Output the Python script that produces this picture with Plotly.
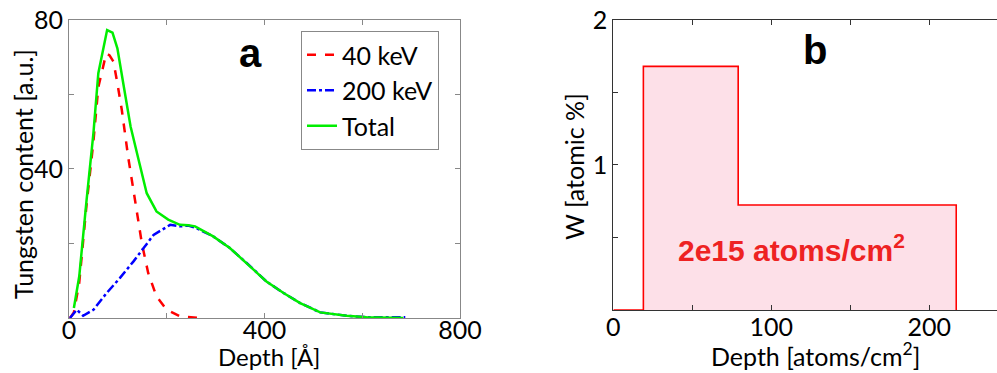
import plotly.graph_objects as go

# ---- Panel a data (Depth [Å] vs Tungsten content [a.u.]) ----
x_40kev = [2, 10, 21, 36, 50, 60, 69, 76, 83, 91, 99, 108, 121, 135, 149, 162, 179, 200, 227, 265]
y_40kev = [0, 1.5, 9.5, 30.5, 47.4, 62, 67, 71, 70.5, 68.8, 63, 55.9, 43.3, 31.7, 20.1, 12.1, 5.8, 2.2, 0.45, 0]

x_200kev = [2, 16, 29, 50, 77, 104, 132, 152, 173, 207, 227, 244, 261, 295, 329, 364, 404, 439, 473, 514, 568, 609, 688]
y_200kev = [0, 2.2, 0.6, 2.2, 6.7, 10.7, 15.2, 18.8, 22.3, 25.0, 24.6, 24.8, 24.1, 21.9, 18.8, 14.7, 9.8, 6.7, 4.0, 1.5, 0.6, 0.2, 0.2]

x_total = [10, 21, 36, 50, 60, 69, 78, 89, 99, 111, 126, 144, 159, 179, 203, 227, 244, 258, 295, 329, 364, 404, 439, 473, 514, 568, 609, 684]
y_total = [2.7, 11.2, 31.7, 49.6, 65.7, 71.9, 77.3, 76.6, 72.4, 63.0, 51.4, 41.6, 33.5, 28.6, 26.4, 25.0, 24.9, 24.6, 21.9, 18.8, 14.7, 9.8, 6.7, 4.0, 1.5, 0.6, 0.2, 0.0]

a_xticks = [0, 200, 400, 600, 800]
a_xticklabels = ["0", "", "400", "", "800"]
a_yticks = [0, 20, 40, 60, 80]
a_yticklabels = ["", "", "40", "", "80"]

# ---- Panel b data (step profile) ----
b_edges = [0, 19, 79, 217]
b_levels = [0, 1.68, 0.724, 0]
b_xticks = [0, 50, 100, 150, 200]
b_xticklabels = ["0", "", "100", "", "200"]
b_yticks = [0, 0.5, 1, 1.5, 2]
b_yticklabels = ["", "", "1", "", "2"]

FONT = "Lato"
W, H = 997, 373
fig = go.Figure()

fig.add_trace(go.Scatter(x=x_40kev, y=y_40kev, mode="lines", name="40 keV",
                         line=dict(color="#ff0000", width=2.5, dash="dash"),
                         xaxis="x", yaxis="y"))
fig.add_trace(go.Scatter(x=x_200kev, y=y_200kev, mode="lines", name="200 keV",
                         line=dict(color="#0000ff", width=2.5, dash="dashdot"),
                         xaxis="x", yaxis="y"))
fig.add_trace(go.Scatter(x=x_total, y=y_total, mode="lines", name="Total",
                         line=dict(color="#00ee00", width=2.5),
                         xaxis="x", yaxis="y"))

fig.add_trace(go.Scatter(x=b_edges, y=b_levels, mode="lines", line_shape="hv",
                         fill="tozeroy", fillcolor="#fde0e8",
                         line=dict(color="#ff0000", width=1.6),
                         showlegend=False, xaxis="x2", yaxis="y2"))

axis_common = dict(ticks="inside", ticklen=5, showgrid=False, zeroline=False,
                   showline=True, linewidth=1,
                   tickfont=dict(family=FONT, size=25, color="black"))


def ann(text, px, py, size, family=FONT, color="black", angle=0, yanchor="middle"):
    return dict(text=text, x=px / W, y=1 - py / H, xref="paper", yref="paper",
                xanchor="center", yanchor=yanchor, showarrow=False, textangle=angle,
                font=dict(family=family, size=size, color=color))


fig.update_layout(
    width=W, height=H,
    margin=dict(l=0, r=0, t=0, b=0, autoexpand=False),
    paper_bgcolor="white", plot_bgcolor="white",
    font=dict(family=FONT, size=24, color="black"),
    xaxis=dict(domain=[0.0692, 0.4614], range=[0, 800], tickmode="array",
               tickvals=a_xticks, ticktext=a_xticklabels, mirror="ticks",
               linecolor="#888888", tickcolor="#888888", ticklabelstandoff=-10,
               anchor="y", **axis_common),
    yaxis=dict(domain=[0.1475, 0.9464], range=[0, 80], tickmode="array",
               tickvals=a_yticks, ticktext=a_yticklabels, mirror="ticks",
               linecolor="#888888", tickcolor="#888888",
               anchor="x", **axis_common),
    xaxis2=dict(domain=[0.6152, 1.0], range=[0, 242.8], tickmode="array",
                tickvals=b_xticks, ticktext=b_xticklabels, mirror="ticks",
                linecolor="#333333", tickcolor="#333333", ticklabelstandoff=-5,
                anchor="y2", **axis_common),
    yaxis2=dict(domain=[0.1689, 0.9464], range=[0, 2], tickmode="array",
                tickvals=b_yticks, ticktext=b_yticklabels,
                linecolor="#333333", tickcolor="#333333",
                anchor="x2", **axis_common),
    legend=dict(x=301/997, y=1-31/373, xanchor="left", yanchor="top",
                bordercolor="#888888", borderwidth=1, bgcolor="white",
                font=dict(family=FONT, size=25), tracegroupgap=0, itemwidth=30),
    annotations=[
        ann("Depth [Å]", 269, 373, 24, yanchor="bottom"),
        ann("Tungsten content [a.u.]", 23, 174, 25, angle=-90),
        ann("Depth [atoms/cm<sup>2</sup>]", 815, 354, 25),
        ann("W [atomic %]", 574, 167, 25, angle=-90),
        ann("<b>a</b>", 251, 53, 40, family="Liberation Sans"),
        ann("<b>b</b>", 815, 50, 40, family="Liberation Sans"),
        dict(text="<b>2e15 atoms/cm<sup>2</sup></b>", x=113, y=0.43, xref="x2", yref="y2",
             xanchor="center", yanchor="middle", showarrow=False,
             font=dict(family="Liberation Sans", size=30, color="#ee2222")),
    ],
)

fig.write_html("out.html")
